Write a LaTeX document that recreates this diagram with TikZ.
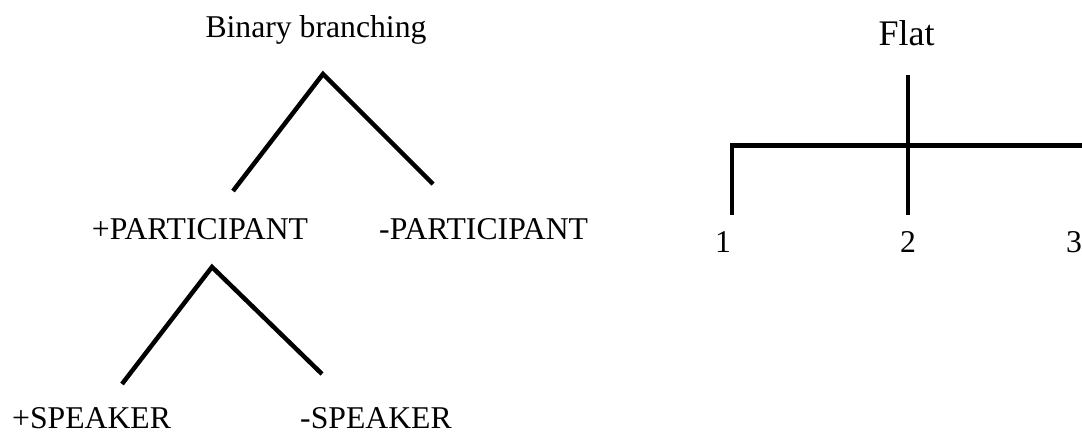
\documentclass[tikz,border=0pt]{standalone}
\usepackage{fontspec}
\setmainfont{Liberation Serif}
\begin{document}
\begin{tikzpicture}[x=1pt,y=-1pt,
  lbl/.style={inner sep=0pt,font=\fontsize{31.7pt}{38pt}\selectfont},
  ttl/.style={inner sep=0pt,font=\fontsize{36pt}{43pt}\selectfont},
  branch/.style={line width=4.5pt,line cap=butt,line join=miter}]
\useasboundingbox (0,0) rectangle (1082,434);
% Binary branching tree
\node[lbl,anchor=base] (bb) at (316,37) {Binary branching};
\coordinate (r) at (323,74);
\coordinate (rl) at (233,191);
\coordinate (rr) at (433,184);
\node[lbl,anchor=base] (pp) at (200,239) {+PARTICIPANT};
\node[lbl,anchor=base west] (mp) at (379,239) {-PARTICIPANT};
\coordinate (s) at (212,267);
\coordinate (sl) at (122,384);
\coordinate (sr) at (322,374);
\node[lbl,anchor=base west,text depth=0pt] (ps) at (12,428) {+SPEAKER};
\node[lbl,anchor=base west,text depth=0pt] (ms) at (300,428) {-SPEAKER};
\draw[branch] (rl) -- (r) -- (rr);
\draw[branch] (sl) -- (s) -- (sr);
% Flat tree
\node[ttl,anchor=base] (flat) at (906.5,45) {Flat};
\coordinate (ftop) at (908,75);
\coordinate (fbot) at (908,215);
\coordinate (fl) at (732,215);
\coordinate (fc) at (732,145.5);
\coordinate (fr) at (1082,145.5);
\node[lbl,anchor=base] (n1) at (723,252) {1};
\node[lbl,anchor=base] (n2) at (908,252) {2};
\node[lbl,anchor=base west] (n3) at (1066,252) {3};
\draw[branch] (ftop) -- (fbot);
\draw[branch] (fl) -- (fc) -- (fr);
\end{tikzpicture}
\end{document}
